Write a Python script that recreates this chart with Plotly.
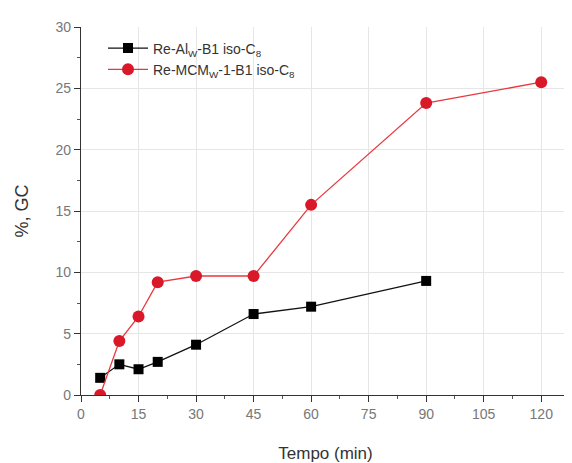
import plotly.graph_objects as go

x_al = [5, 10, 15, 20, 30, 45, 60, 90]
y_al = [1.4, 2.5, 2.1, 2.7, 4.1, 6.6, 7.2, 9.3]
x_mcm = [5, 10, 15, 20, 30, 45, 60, 90, 120]
y_mcm = [0.0, 4.4, 6.4, 9.2, 9.7, 9.7, 15.5, 23.8, 25.5]
name_al = "Re-Al<sub>W</sub>-B1 iso-C<sub>8</sub>"
name_mcm = "Re-MCM<sub>W</sub>-1-B1 iso-C<sub>8</sub>"
x_ticks = [0, 15, 30, 45, 60, 75, 90, 105, 120]
y_ticks = [0, 5, 10, 15, 20, 25, 30]

fig = go.Figure()
fig.add_trace(go.Scatter(x=x_al, y=y_al, mode="lines+markers", name=name_al,
                         line=dict(color="#111111", width=1.3),
                         marker=dict(symbol="square", size=10, color="#000000")))
fig.add_trace(go.Scatter(x=x_mcm, y=y_mcm, mode="lines+markers", name=name_mcm,
                         line=dict(color="#e8383f", width=1.3),
                         marker=dict(symbol="circle", size=12, color="#d9182a")))

axis_common = dict(showline=True, linecolor="#333333", linewidth=1.2,
                   ticks="outside", ticklen=6, tickcolor="#333333",
                   showgrid=True, gridcolor="#e6e6e6", gridwidth=1, zeroline=False,
                   tickfont=dict(family="Arial, Liberation Sans", size=14, color="#777777"),
                   minor=dict(ticks="outside", ticklen=3, tickcolor="#555555", showgrid=False))
fig.update_xaxes(range=[0, 127.5], tickvals=x_ticks, **axis_common,
                 title=dict(text="Tempo (min)", font=dict(family="Arial, Liberation Sans", size=17, color="#333333"), standoff=26))
fig.update_yaxes(range=[0, 30], tickvals=y_ticks, **axis_common,
                 title=dict(text="%, GC", font=dict(family="Arial, Liberation Sans", size=18, color="#333333"), standoff=22))
fig.update_xaxes(minor=dict(dtick=7.5, tick0=0))
fig.update_yaxes(minor=dict(dtick=2.5, tick0=0))

fig.update_layout(width=572, height=463, margin=dict(l=73, r=10, t=19, b=76, autoexpand=False),
                  plot_bgcolor="white", paper_bgcolor="white",
                  legend=dict(x=0.045, y=0.985, xanchor="left", yanchor="top",
                              bgcolor="rgba(0,0,0,0)", itemwidth=40,
                              font=dict(family="Arial, Liberation Sans", size=14, color="#333333"),
                              tracegroupgap=4))
fig.write_html("out.html")
